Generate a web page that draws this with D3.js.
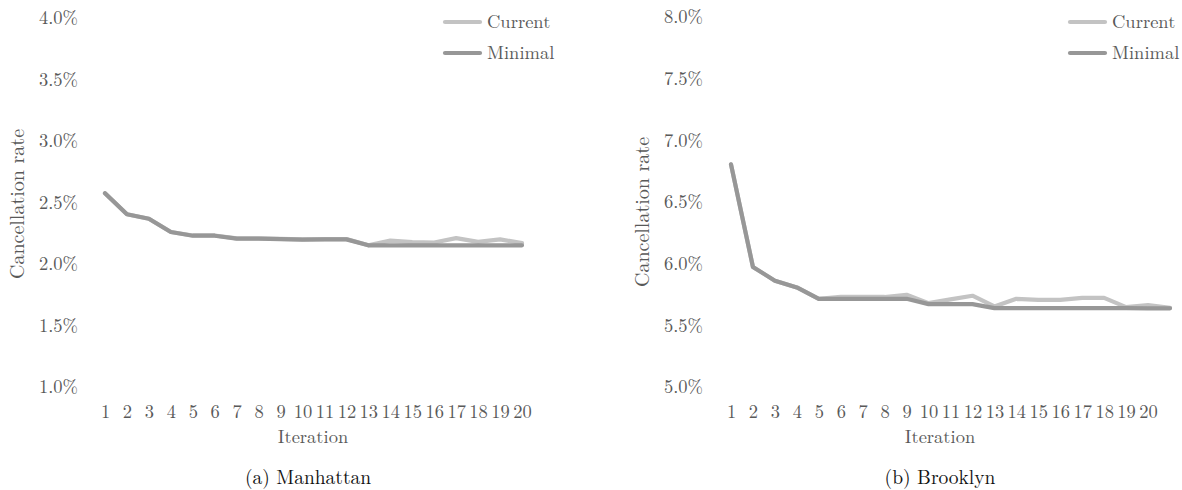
<!DOCTYPE html>
<html>
<head>
<meta charset="utf-8">
<script src="https://cdn.jsdelivr.net/npm/d3@7"></script>
<style>
  body { margin: 0; background: #fff; }
  svg { display: block; }
</style>
</head>
<body>
<svg id="chart" width="1182" height="490"></svg>
<script>
// ---- Data ----
const manhattanIterations = d3.range(1, 21).map(String);
const manhattanCurrent = [2.575, 2.404, 2.368, 2.26, 2.232, 2.232, 2.208, 2.208, 2.205, 2.2, 2.203, 2.203, 2.152, 2.19, 2.178, 2.175, 2.21, 2.18, 2.2, 2.17];
const manhattanMinimal = [2.575, 2.404, 2.368, 2.26, 2.23, 2.23, 2.206, 2.206, 2.203, 2.198, 2.2, 2.2, 2.152, 2.152, 2.152, 2.152, 2.152, 2.152, 2.152, 2.152];
const manhattanYTicks = [1.0, 1.5, 2.0, 2.5, 3.0, 3.5, 4.0];

const brooklynIterations = d3.range(1, 22).map(String);
const brooklynXLabels = d3.range(1, 21).map(String); // 21st category has no label
const brooklynCurrent = [6.805, 5.973, 5.862, 5.807, 5.715, 5.73, 5.73, 5.73, 5.748, 5.68, 5.71, 5.74, 5.653, 5.715, 5.707, 5.707, 5.723, 5.723, 5.648, 5.664, 5.642];
const brooklynMinimal = [6.805, 5.973, 5.862, 5.807, 5.715, 5.715, 5.715, 5.715, 5.715, 5.672, 5.672, 5.672, 5.64, 5.64, 5.64, 5.64, 5.64, 5.64, 5.64, 5.638, 5.638];
const brooklynYTicks = [5.0, 5.5, 6.0, 6.5, 7.0, 7.5, 8.0];

const seriesNames = ["Current", "Minimal"];
const seriesColors = ["#c3c3c3", "#979797"];

const FONT = "'Latin Modern Roman', 'Liberation Serif', serif";
const svg = d3.select("#chart").attr("font-family", FONT);

function styleText(sel, size, color) {
  sel.attr("font-family", FONT).style("font-family", FONT)
     .style("font-size", size + "px").attr("fill", color || "#595959");
}

function panel(cfg) {
  const g = svg.append("g");
  const x = d3.scalePoint().domain(cfg.cats).range(cfg.xRange);
  const y = d3.scaleLinear().domain(cfg.yDomain).range(cfg.yRange);

  // y axis (labels only)
  const yAxis = d3.axisLeft(y).tickValues(cfg.yTicks).tickSize(0).tickPadding(0)
    .tickFormat(d => d.toFixed(1) + "%");
  const ya = g.append("g").attr("transform", `translate(${cfg.yLabelX},0)`).call(yAxis)
    .attr("font-family", FONT);
  ya.select(".domain").remove();
  styleText(ya.selectAll("text"), 18.5);

  // x axis (labels only)
  const xAxis = d3.axisBottom(x).tickSize(0).tickPadding(0)
    .tickFormat(d => cfg.xLabels.includes(d) ? d : "");
  const xa = g.append("g").attr("transform", `translate(0,${cfg.xLabelY})`).call(xAxis)
    .attr("font-family", FONT);
  xa.select(".domain").remove();
  styleText(xa.selectAll("text"), 18.5);

  // lines
  const line = d3.line().x((d, i) => x(cfg.cats[i])).y(d => y(d));
  [cfg.current, cfg.minimal].forEach((vals, k) => {
    g.append("path").datum(vals)
      .attr("d", line)
      .attr("fill", "none")
      .attr("stroke", seriesColors[k])
      .attr("stroke-width", 4.2)
      .attr("stroke-linejoin", "round")
      .attr("stroke-linecap", "round");
  });

  // axis titles
  styleText(g.append("text")
    .attr("transform", `translate(${cfg.yTitleX},${cfg.yTitleY}) rotate(-90)`)
    .attr("text-anchor", "middle")
    .text("Cancellation rate"), 20);
  styleText(g.append("text")
    .attr("x", cfg.xTitleX).attr("y", 443)
    .attr("text-anchor", "middle")
    .text("Iteration"), 18.5);

  // caption
  styleText(g.append("text")
    .attr("x", cfg.captionX).attr("y", 484)
    .attr("text-anchor", "middle")
    .text(cfg.caption), 19.5, "#111");

  // legend
  seriesNames.forEach((name, k) => {
    const ly = cfg.legendY[k];
    g.append("line")
      .attr("x1", cfg.legendX).attr("x2", cfg.legendX + 35)
      .attr("y1", ly).attr("y2", ly)
      .attr("stroke", seriesColors[k]).attr("stroke-width", 4.2)
      .attr("stroke-linecap", "round");
    styleText(g.append("text")
      .attr("x", cfg.legendX + 42).attr("y", ly)
      .attr("dy", "0.33em")
      .text(name), 18.5);
  });
}

panel({
  cats: manhattanIterations, xLabels: manhattanIterations,
  xRange: [105, 522], yDomain: [1.0, 4.0], yRange: [387, 18],
  yTicks: manhattanYTicks, current: manhattanCurrent, minimal: manhattanMinimal,
  yLabelX: 78, xLabelY: 405, yTitleX: 24, yTitleY: 204, xTitleX: 313,
  caption: "(a) Manhattan", captionX: 308,
  legendX: 445, legendY: [22, 53]
});

panel({
  cats: brooklynIterations, xLabels: brooklynXLabels,
  xRange: [731, 1170], yDomain: [5.0, 8.0], yRange: [387, 17],
  yTicks: brooklynYTicks, current: brooklynCurrent, minimal: brooklynMinimal,
  yLabelX: 703, xLabelY: 405, yTitleX: 649, yTitleY: 212, xTitleX: 940,
  caption: "(b) Brooklyn", captionX: 940,
  legendX: 1070, legendY: [22, 53]
});
</script>
</body>
</html>
